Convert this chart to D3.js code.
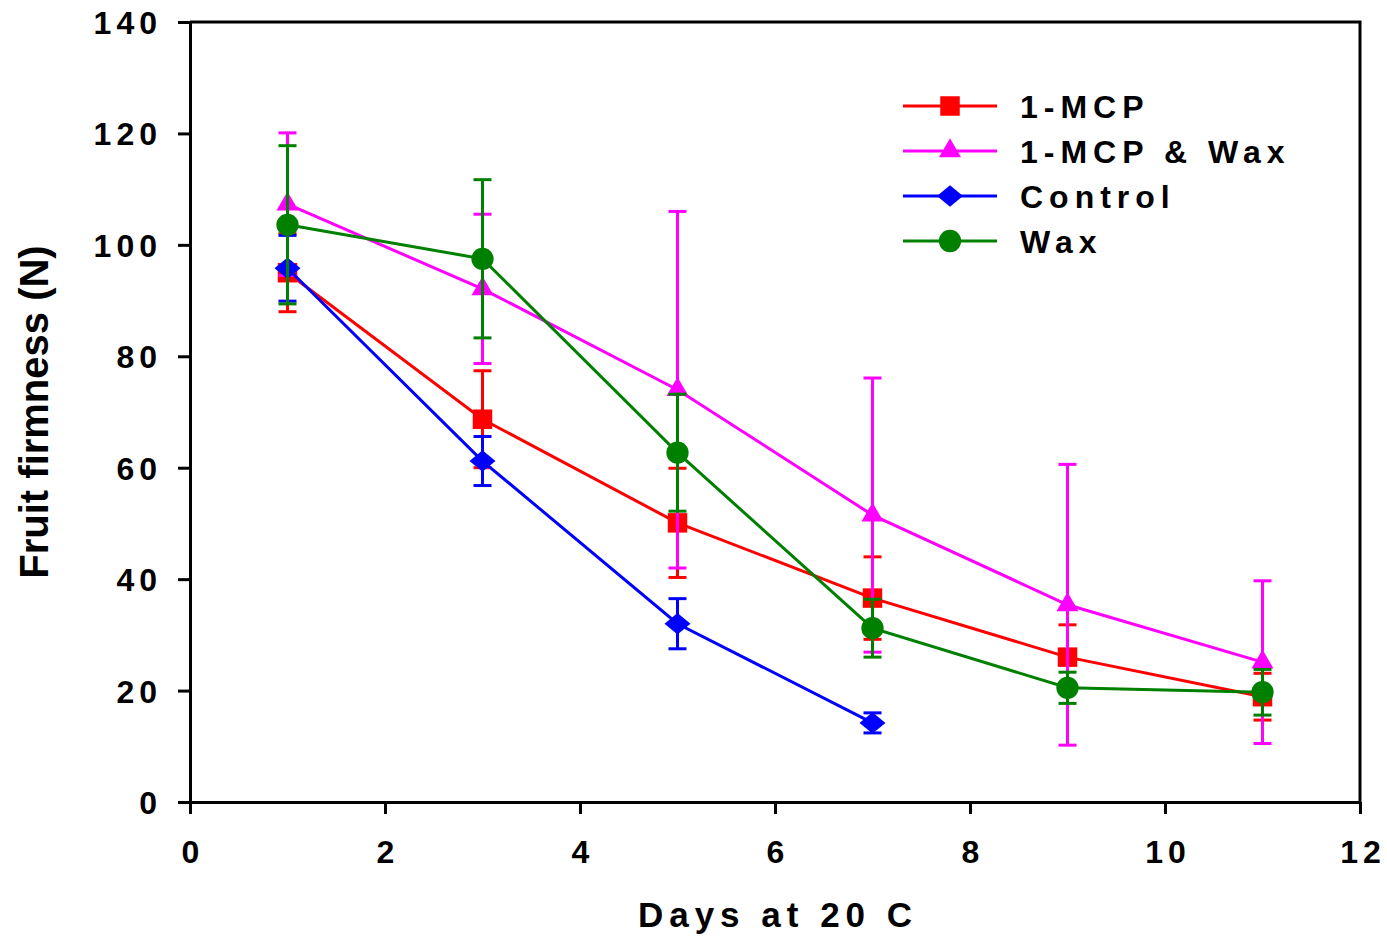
<!DOCTYPE html>
<html>
<head>
<meta charset="utf-8">
<script src="https://d3js.org/d3.v7.min.js"></script>
<style>
  body { margin: 0; background: #fff; }
  svg text { font-family: "Liberation Sans", Arial, sans-serif; font-weight: bold; }
</style>
</head>
<body>
<div id="chart"></div>
<script>
const days = [1, 3, 5, 7, 9, 11];

const mcp_mean = [95, 68.7, 50.1, 36.6, 26.0, 18.9];
const mcp_err = [7, 8.7, 9.8, 7.4, 5.8, 4.2];
const mcpwax_mean = [107.3, 92.1, 74.0, 51.5, 35.4, 25.1];
const mcpwax_err = [12.8, 13.4, 32, 24.6, 25.2, 14.6];
const control_mean = [95.8, 61.2, 32.0, 14.2];
const control_err = [5.9, 4.4, 4.5, 1.8];
const wax_mean = [103.6, 97.5, 62.7, 31.2, 20.5, 19.7];
const wax_err = [14.2, 14.2, 10.5, 5.2, 2.8, 4.1];

const x_ticks = [0, 2, 4, 6, 8, 10, 12];
const y_ticks = [0, 20, 40, 60, 80, 100, 120, 140];

// wide diamond like the original plotting software uses
const wideDiamond = {
  draw(ctx, size) {
    const w = Math.sqrt(size) * 0.75, h = Math.sqrt(size) * 0.62;
    ctx.moveTo(0, -h);
    ctx.lineTo(w, 0);
    ctx.lineTo(0, h);
    ctx.lineTo(-w, 0);
    ctx.closePath();
  }
};

const series = [
  {name: "1-MCP", color: "#ff0000", symbol: d3.symbolSquare, size: 380, mean: mcp_mean, err: mcp_err},
  {name: "1-MCP & Wax", color: "#ff00ff", symbol: d3.symbolTriangle, size: 210, mean: mcpwax_mean, err: mcpwax_err},
  {name: "Control", color: "#0000ff", symbol: wideDiamond, size: 300, mean: control_mean, err: control_err},
  {name: "Wax", color: "#008000", symbol: d3.symbolCircle, size: 390, mean: wax_mean, err: wax_err}
];

const width = 1387, height = 941;
const margin = {left: 190, right: 27, top: 22, bottom: 139};

const svg = d3.select("#chart").append("svg")
  .attr("width", width)
  .attr("height", height);

const x = d3.scaleLinear().domain([0, 12]).range([margin.left, width - margin.right]);
const y = d3.scaleLinear().domain([0, 140]).range([height - margin.bottom, margin.top]);

// frame (top + right)
svg.append("path")
  .attr("d", `M${x(0)},${y(140)}H${x(12)}V${y(0)}`)
  .attr("fill", "none")
  .attr("stroke", "#000")
  .attr("stroke-width", 3);

const xAxis = svg.append("g")
  .attr("transform", `translate(0,${y(0)})`)
  .call(d3.axisBottom(x).tickValues(x_ticks).tickSize(12).tickSizeOuter(0));
const yAxis = svg.append("g")
  .attr("transform", `translate(${x(0)},0)`)
  .call(d3.axisLeft(y).tickValues(y_ticks).tickSize(12).tickSizeOuter(0).tickPadding(16));

[xAxis, yAxis].forEach(g => {
  g.select(".domain").attr("stroke-width", 3);
  g.selectAll(".tick line").attr("stroke-width", 3);
  g.selectAll(".tick text")
    .attr("font-size", 32)
    .attr("fill", "#000")
    .style("letter-spacing", "5px");
});
yAxis.selectAll(".tick text").attr("dy", "0.36em");
xAxis.selectAll(".tick text").attr("y", 61).attr("dy", 0).attr("dx", 2.5);

// axis titles
svg.append("text")
  .attr("x", x(6) + 3)
  .attr("y", 927)
  .attr("text-anchor", "middle")
  .attr("font-size", 35)
  .style("letter-spacing", "6px")
  .text("Days at 20 C");

svg.append("text")
  .attr("transform", `translate(48,${y(70)}) rotate(-90)`)
  .attr("text-anchor", "middle")
  .attr("font-size", 40)
  .text("Fruit firmness (N)");

const line = d3.line()
  .x(d => x(d[0]))
  .y(d => y(d[1]));

const cap = 9;
series.forEach(s => {
  const pts = s.mean.map((m, i) => [days[i], m, s.err[i]]);
  const g = svg.append("g");
  // error bars
  const eb = g.selectAll("g.err").data(pts).join("g").attr("class", "err")
    .attr("stroke", s.color).attr("stroke-width", 3);
  eb.append("line")
    .attr("x1", d => x(d[0])).attr("x2", d => x(d[0]))
    .attr("y1", d => y(d[1] + d[2])).attr("y2", d => y(d[1] - d[2]));
  eb.append("line")
    .attr("x1", d => x(d[0]) - cap).attr("x2", d => x(d[0]) + cap)
    .attr("y1", d => y(d[1] + d[2])).attr("y2", d => y(d[1] + d[2]));
  eb.append("line")
    .attr("x1", d => x(d[0]) - cap).attr("x2", d => x(d[0]) + cap)
    .attr("y1", d => y(d[1] - d[2])).attr("y2", d => y(d[1] - d[2]));
  // line
  g.append("path")
    .datum(pts)
    .attr("d", line)
    .attr("fill", "none")
    .attr("stroke", s.color)
    .attr("stroke-width", 3);
  // markers
  g.selectAll("path.mark").data(pts).join("path")
    .attr("class", "mark")
    .attr("d", d3.symbol().type(s.symbol).size(s.size))
    .attr("transform", d => `translate(${x(d[0])},${y(d[1])})`)
    .attr("fill", s.color);
});

// legend
const legend = svg.append("g").attr("transform", "translate(903,106)");
const items = legend.selectAll("g").data(series).join("g")
  .attr("transform", (d, i) => `translate(0,${i * 45})`);
items.append("line")
  .attr("x1", 0).attr("x2", 94)
  .attr("stroke", d => d.color)
  .attr("stroke-width", 3);
items.append("path")
  .attr("d", d => d3.symbol().type(d.symbol).size(d.size)())
  .attr("transform", "translate(47,0)")
  .attr("fill", d => d.color);
items.append("text")
  .attr("x", 117)
  .attr("dy", "0.36em")
  .attr("font-size", 32)
  .style("letter-spacing", "6px")
  .text(d => d.name);
</script>
</body>
</html>
